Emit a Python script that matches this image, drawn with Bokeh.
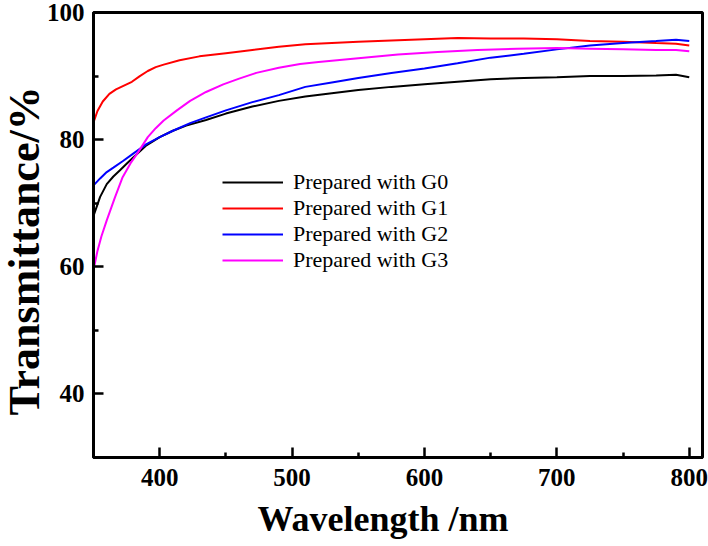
from bokeh.plotting import figure
from bokeh.models import FixedTicker, Legend, LegendItem, Title
from bokeh.embed import file_html
from bokeh.resources import INLINE

# Data (wavelength in nm, transmittance in %)
wl_g0 = [350, 355, 360, 365, 370, 375, 380, 390, 400, 410, 420, 435, 450, 470, 490, 510, 530, 550, 575, 600, 625, 650, 675, 700, 725, 750, 775, 790, 800]
t_g0 = [68.0, 71.0, 73.0, 74.2, 75.2, 76.2, 77.2, 79.1, 80.4, 81.4, 82.2, 83.1, 84.1, 85.2, 86.1, 86.8, 87.3, 87.8, 88.3, 88.7, 89.1, 89.5, 89.7, 89.8, 90.0, 90.0, 90.1, 90.2, 89.8]

wl_g1 = [350, 353, 357, 362, 367, 373, 379, 385, 391, 397, 403, 415, 430, 450, 470, 490, 510, 530, 550, 575, 600, 625, 650, 675, 700, 725, 750, 775, 790, 800]
t_g1 = [82.7, 84.5, 86.0, 87.2, 87.9, 88.5, 89.1, 90.0, 90.8, 91.4, 91.8, 92.5, 93.1, 93.6, 94.1, 94.6, 95.0, 95.2, 95.4, 95.6, 95.8, 96.0, 95.9, 95.9, 95.8, 95.5, 95.4, 95.2, 95.1, 94.8]

wl_g2 = [350, 355, 360, 365, 372, 380, 390, 400, 410, 423, 435, 450, 470, 490, 510, 530, 550, 575, 600, 625, 650, 675, 700, 725, 750, 775, 790, 800]
t_g2 = [72.8, 73.9, 74.9, 75.6, 76.6, 77.8, 79.3, 80.4, 81.4, 82.6, 83.5, 84.6, 85.9, 87.0, 88.3, 89.0, 89.7, 90.5, 91.2, 92.0, 92.9, 93.5, 94.2, 94.8, 95.2, 95.5, 95.7, 95.5]

wl_g3 = [350, 353, 356, 360, 366, 372, 378, 383, 391, 397, 403, 413, 423, 435, 448, 460, 473, 490, 506, 520, 550, 580, 610, 640, 670, 700, 725, 750, 775, 790, 800]
t_g3 = [59.5, 62.5, 64.8, 67.3, 70.8, 74.1, 76.3, 77.8, 80.4, 81.8, 83.0, 84.6, 86.1, 87.5, 88.7, 89.6, 90.5, 91.3, 91.9, 92.2, 92.8, 93.4, 93.8, 94.1, 94.3, 94.4, 94.3, 94.2, 94.1, 94.1, 93.9]

labels = ["Prepared with G0", "Prepared with G1", "Prepared with G2", "Prepared with G3"]
colors = ["#000000", "#ff0000", "#0000ff", "#ff00ff"]

x_major = [400, 500, 600, 700, 800]
x_minor = [450, 550, 650, 750]
y_major = [40, 60, 80, 100]
y_minor = [50, 70, 90]

x_title = "Wavelength /nm"
y_title = "Transmittance/%"

FONT = "Liberation Serif"

p = figure(width=708, height=546, x_range=(350, 810), y_range=(30, 100),
           output_backend="svg", toolbar_location=None,
           min_border_left=93, min_border_right=6, min_border_top=12, min_border_bottom=87)

p.xgrid.visible = False
p.ygrid.visible = False
p.outline_line_color = "black"
p.outline_line_width = 3
p.background_fill_color = "white"
p.border_fill_color = "white"

series = [(wl_g0, t_g0), (wl_g1, t_g1), (wl_g2, t_g2), (wl_g3, t_g3)]
renderers = []
for (xs, ys), c in zip(series, colors):
    r = p.line(xs, ys, line_color=c, line_width=2)
    renderers.append(r)

p.xaxis.ticker = FixedTicker(ticks=x_major, minor_ticks=x_minor)
p.yaxis.ticker = FixedTicker(ticks=y_major, minor_ticks=y_minor)

for ax in (p.xaxis[0], p.yaxis[0]):
    ax.axis_line_width = 3
    ax.axis_line_color = "black"
    ax.major_tick_in = 10
    ax.major_tick_out = 0
    ax.minor_tick_in = 5
    ax.minor_tick_out = 0
    ax.major_tick_line_width = 2.5
    ax.minor_tick_line_width = 2.5
    ax.major_label_text_font = FONT
    ax.major_label_text_font_style = "bold"
    ax.major_label_text_font_size = "25px"
    ax.major_label_text_color = "black"

p.xaxis.major_label_standoff = 11
p.yaxis.major_label_standoff = 9

# Axis titles as side-panel titles (outside the axes)
p.add_layout(Title(text=x_title, align="left", offset=164, standoff=16,
                   text_font=FONT, text_font_style="bold", text_font_size="36px",
                   text_line_height=1.0, text_color="black"), "below")
p.add_layout(Title(text=y_title, align="left", offset=42, standoff=-12,
                   vertical_align="middle",
                   text_font=FONT, text_font_style="bold", text_font_size="44px",
                   text_line_height=1.0, text_color="black"), "left")

items = [LegendItem(label=l, renderers=[r]) for l, r in zip(labels, renderers)]
legend = Legend(items=items, location=(129, 184), padding=0, margin=0,
                spacing=0, glyph_width=61, glyph_height=18, label_height=18,
                label_standoff=10, label_text_font=FONT, label_text_font_size="22px",
                label_text_line_height=1.0,
                label_text_color="black",
                border_line_alpha=0, background_fill_alpha=0)
p.add_layout(legend)

open("out.html", "w").write(file_html(p, INLINE))
